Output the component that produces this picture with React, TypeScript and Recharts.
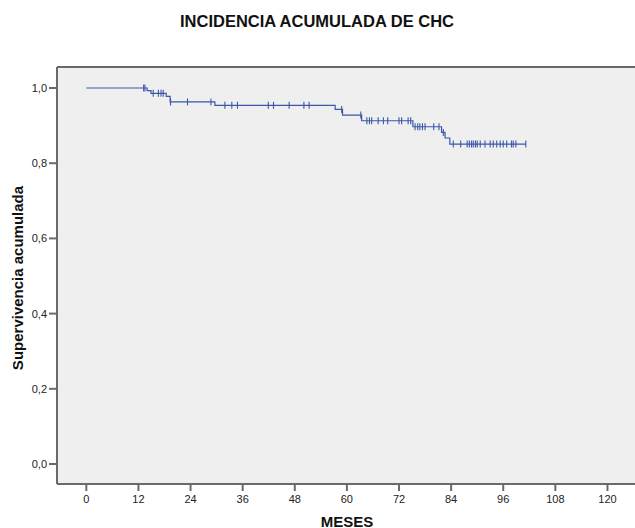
import React from 'react';
import { ComposedChart, Line, Scatter, XAxis, YAxis, CartesianGrid, ReferenceLine } from 'recharts';

// Kaplan-Meier steps: time in months, cumulative survival after the event
const eventTimes = [0, 14.0, 14.9, 18.4, 19.3, 29.6, 57.3, 59.0, 63.4, 75.2, 81.8, 82.6, 83.7, 101.2];
const survival = [1.0, 0.993, 0.986, 0.978, 0.963, 0.954, 0.943, 0.928, 0.913, 0.897, 0.882, 0.867, 0.851, 0.851];

// censored cases (months)
const censoredTimes = [
  13.2, 13.5, 15.4, 16.6, 17.2, 17.7, 19.4, 23.3, 28.7,
  31.9, 33.5, 34.8, 41.9, 43.1, 46.7, 50.1, 51.3, 58.8, 63.2,
  64.6, 65.2, 65.7, 67.2, 68.4, 69.4, 72.0, 72.6, 74.1, 74.7,
  75.7, 76.3, 76.8, 77.4, 78.0, 80.0, 81.2, 82.2,
  84.5, 86.2, 87.7, 88.2, 88.7, 89.1, 89.6, 90.0, 90.7, 91.8, 93.0, 93.7,
  94.5, 95.3, 96.0, 96.8, 97.9, 98.3, 98.9, 101.2,
];

const xTicks = [0, 12, 24, 36, 48, 60, 72, 84, 96, 108, 120];
const yTicks = [0, 0.2, 0.4, 0.6, 0.8, 1.0];

const X_MIN = -6.75;
const X_MAX = 126.34;
const Y_MIN = -0.0532;
const Y_MAX = 1.0559;

const BLUE = '#3b58a8';
const AXIS = '#6a6a6a';
const FONT = '"Liberation Sans", Arial, sans-serif';

const curve = eventTimes.map((t, i) => ({ t, s: survival[i] }));
const levelAt = (t: number) => {
  let s = survival[0];
  eventTimes.forEach((et, i) => { if (et <= t) s = survival[i]; });
  return s;
};
const censored = censoredTimes.map(t => ({ t, s: levelAt(t) }));

const CensorMark = (props: any) => {
  const { cx, cy } = props;
  return <line x1={cx} x2={cx} y1={cy - 3.5} y2={cy + 3.5} stroke={BLUE} strokeWidth={1.1} />;
};

const fmt = (v: number) => v.toFixed(1).replace('.', ',');

export default function App() {
  return (
    <div style={{ position: 'absolute', left: 0, top: 0, width: 635, height: 528, background: '#fff', fontFamily: FONT }}>
      <ComposedChart width={635} height={528} margin={{ top: 67, right: 0, left: 0, bottom: 0 }}>
        <CartesianGrid fill="#efefef" horizontal={false} vertical={false} />
        <XAxis
          dataKey="t"
          type="number"
          domain={[X_MIN, X_MAX]}
          allowDataOverflow
          ticks={xTicks}
          height={44}
          tickSize={7}
          tickMargin={4}
          axisLine={{ stroke: AXIS, strokeWidth: 2 }}
          tickLine={{ stroke: AXIS, strokeWidth: 2 }}
          tick={{ fill: '#222', fontSize: 11, fontFamily: FONT }}
        />
        <YAxis
          dataKey="s"
          type="number"
          domain={[Y_MIN, Y_MAX]}
          allowDataOverflow
          ticks={yTicks}
          width={57}
          tickSize={8}
          tickMargin={2}
          tickFormatter={fmt}
          axisLine={{ stroke: AXIS, strokeWidth: 2 }}
          tickLine={{ stroke: AXIS, strokeWidth: 2 }}
          tick={{ fill: '#222', fontSize: 11, fontFamily: FONT }}
        />
        <ReferenceLine y={Y_MAX} stroke={AXIS} strokeWidth={2} />
        <Line
          data={curve}
          dataKey="s"
          type="stepAfter"
          stroke={BLUE}
          strokeWidth={1.2}
          dot={false}
          activeDot={false}
          isAnimationActive={false}
        />
        <Scatter data={censored} dataKey="s" shape={CensorMark} isAnimationActive={false} />
      </ComposedChart>
      <div style={{ position: 'absolute', left: 317, top: 21, transform: 'translate(-50%, -50%)', fontSize: 16.5, fontWeight: 'bold', whiteSpace: 'nowrap', color: '#111' }}>
        INCIDENCIA ACUMULADA DE CHC
      </div>
      <div style={{ position: 'absolute', left: 347, top: 521, transform: 'translate(-50%, -50%)', fontSize: 15, fontWeight: 'bold', whiteSpace: 'nowrap', color: '#111' }}>
        MESES
      </div>
      <div style={{ position: 'absolute', left: 17, top: 278, transform: 'translate(-50%, -50%) rotate(-90deg)', fontSize: 15, fontWeight: 'bold', whiteSpace: 'nowrap', color: '#111' }}>
        Supervivencia acumulada
      </div>
    </div>
  );
}
